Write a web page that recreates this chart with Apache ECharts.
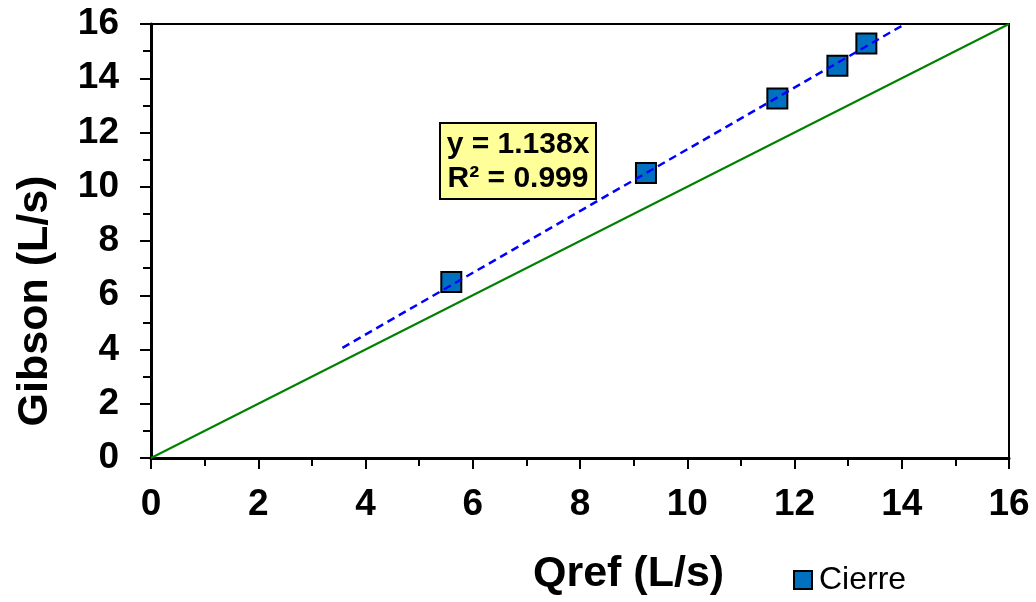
<!DOCTYPE html>
<html>
<head>
<meta charset="utf-8">
<script src="https://cdn.jsdelivr.net/npm/echarts@6/dist/echarts.min.js"></script>
<style>html,body{margin:0;padding:0;background:#fff}#c{width:1036px;height:602px}</style>
</head>
<body>
<div id="c"></div>
<script>
// Data
var qref = [5.60, 9.23, 11.68, 12.80, 13.34];
var gibson = [6.49, 10.51, 13.25, 14.46, 15.28];
var trendX = [3.57, 14.06];
var trendY = [4.06, 16.0];
var identityX = [0, 16];
var identityY = [0, 16];
var seriesName = 'Cierre';
var equationLines = ['y = 1.138x', 'R² = 0.999'];
var xTitle = 'Qref (L/s)';
var yTitle = 'Gibson (L/s)';

function pairs(xs, ys) { return xs.map(function (x, i) { return [x, ys[i]]; }); }

var FONT = 'Liberation Sans, Arial, sans-serif';
var chart = echarts.init(document.getElementById('c'));

var axisCommon = {
  type: 'value', min: 0, max: 16, interval: 2,
  axisLine: { show: true, lineStyle: { color: '#000', width: 3 } },
  axisTick: { show: true, length: 11, lineStyle: { color: '#000', width: 2 } },
  minorTick: { show: true, splitNumber: 2, length: 8, lineStyle: { color: '#000', width: 2 } },
  splitLine: { show: false },
  minorSplitLine: { show: false }
};

chart.setOption({
  animation: false,
  backgroundColor: '#fff',
  grid: { left: 151, right: 27, top: 24, bottom: 144, show: true, borderColor: '#000', borderWidth: 2, backgroundColor: 'transparent' },
  xAxis: Object.assign({}, axisCommon, {
    axisLabel: { color: '#000', fontFamily: FONT, fontWeight: 'bold', fontSize: 37, margin: 28 }
  }),
  yAxis: Object.assign({}, axisCommon, {
    axisLabel: { color: '#000', fontFamily: FONT, fontWeight: 'bold', fontSize: 37, margin: 32 }
  }),
  legend: {
    left: 788, top: 559,
    data: [seriesName],
    icon: 'rect', itemWidth: 18, itemHeight: 18, itemGap: 4,
    textStyle: { color: '#000', fontFamily: FONT, fontSize: 32, padding: [0, 0, 0, 2] }
  },
  graphic: [
    { type: 'text', left: 533, top: 553, style: { text: xTitle, font: 'bold 43px ' + FONT, fill: '#000' } },
    { type: 'text', x: 35, y: 301, rotation: Math.PI / 2, style: { text: yTitle, font: 'bold 43px ' + FONT, fill: '#000', align: 'center', verticalAlign: 'middle' } },
    { type: 'rect', shape: { x: 440, y: 123, width: 156, height: 76 }, style: { fill: '#FFFF99', stroke: '#000', lineWidth: 2 }, z: 100 },
    { type: 'text', x: 518, y: 145, z: 101, style: { text: equationLines[0], font: 'bold 30px ' + FONT, fill: '#000', align: 'center', verticalAlign: 'middle' } },
    { type: 'text', x: 518, y: 179, z: 101, style: { text: equationLines[1], font: 'bold 30px ' + FONT, fill: '#000', align: 'center', verticalAlign: 'middle' } }
  ],
  series: [
    {
      name: '1:1', type: 'line', data: pairs(identityX, identityY), symbol: 'none',
      lineStyle: { color: '#008000', width: 2 }, z: 2, silent: true
    },
    {
      name: seriesName, type: 'scatter', data: pairs(qref, gibson), symbol: 'rect', symbolSize: 20,
      itemStyle: { color: '#0070C0', borderColor: '#000', borderWidth: 2, opacity: 1 }, z: 3
    },
    {
      name: 'trend', type: 'line', data: pairs(trendX, trendY), symbol: 'none',
      lineStyle: { color: '#0000FF', width: 2.5, type: [8, 5] }, z: 4, silent: true
    }
  ]
});
</script>
</body>
</html>
